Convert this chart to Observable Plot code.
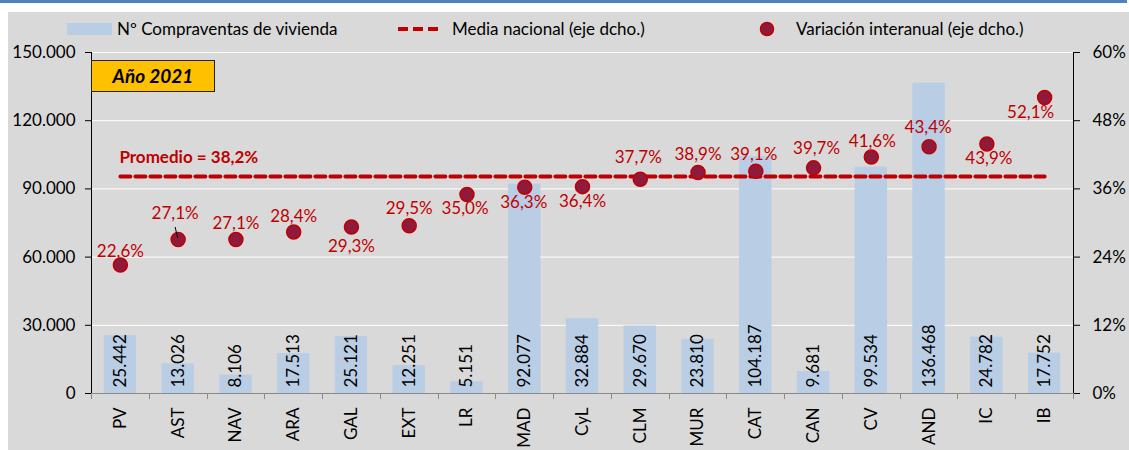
<!DOCTYPE html>
<html><head><meta charset="utf-8">
<script src="https://cdn.jsdelivr.net/npm/d3@7"></script>
<script src="https://cdn.jsdelivr.net/npm/@observablehq/plot@0.6"></script>
<style>
body{margin:0;width:1129px;height:450px;position:relative;overflow:hidden;background:#fff;font-family:Lato,"Noto Sans",sans-serif;}
#topline{position:absolute;left:0;top:0;width:1127px;height:3px;background:#4f81bd;}
#panel{position:absolute;left:8px;top:12px;width:1121px;height:438px;background:#d9d9d9;}
#legend{position:relative;height:30px;width:1121px;}
#legend svg{display:block;}
#badge{position:absolute;left:91px;top:60px;width:122px;height:30px;background:#ffc000;border:1px solid #222;font-weight:bold;font-style:italic;font-size:19px;text-align:center;line-height:30px;color:#000;}
</style></head>
<body>
<div id="topline"></div>
<div id="panel">
  <div id="legend"></div>
  <div id="chart"></div>
</div>
<div id="badge">Año 2021</div>
<script>
// ---- data ----
const categories = ["PV","AST","NAV","ARA","GAL","EXT","LR","MAD","CyL","CLM","MUR","CAT","CAN","CV","AND","IC","IB"];
const sales = [25442,13026,8106,17513,25121,12251,5151,92077,32884,29670,23810,104187,9681,99534,136468,24782,17752];
const yoy = [22.6,27.1,27.1,28.4,29.3,29.5,35.0,36.3,36.4,37.7,38.9,39.1,39.7,41.6,43.4,43.9,52.1];
const nationalMean = 38.2;
const leftTicks = [0,30000,60000,90000,120000,150000];
const rightTicks = [0,12,24,36,48,60];
const legendLabels = ["Nº Compraventas de vivienda","Media nacional (eje dcho.)","Variación interanual (eje dcho.)"];
const meanLabel = "Promedio = 38,2%";

// ---- layout (label placement) ----
const labelDy = [-14,-26,-16,-16,20,-17,14,15,15,-22,-18,-17,-19,-16,-19,15,15];
const labelDx = [0,-3,0,0,0,0,-2,-1,0,-2,0,-2,3,1,-1,2,-14];

const ratio = leftTicks[leftTicks.length-1] / rightTicks[rightTicks.length-1];
const rows = categories.map((c,i)=>({cat:c, sales:sales[i], yoy:yoy[i], i}));
const fmtThousands = d => d3.format(",")(d).replace(/,/g,".");
const fmtPct = d => d.toFixed(1).replace(".",",") + "%";

const RED = "#c00000", DOT = "#8f1a3b", BAR = "#b9cde5";
const FS = 17;

const pctLabels = rows.map((d,i)=>Plot.text([d], {
  x:"cat", y: d=>d.yoy*ratio, text: d=>fmtPct(d.yoy),
  dy: labelDy[i], dx: labelDx[i], fill: RED, fontSize: FS, lineAnchor:"middle"
}));

const plot = Plot.plot({
  width: 1121, height: 408,
  marginLeft: 83, marginRight: 56, marginTop: 10, marginBottom: 57,
  style: {background:"transparent", fontFamily:"Lato, 'Noto Sans', sans-serif", overflow:"visible", color:"#000"},
  x: {domain: categories, paddingInner: 0.44, paddingOuter: 0.22, round: false, label: null},
  y: {domain: [0, leftTicks[leftTicks.length-1]], label: null},
  marks: [
    Plot.gridY(leftTicks, {stroke:"#fff", strokeOpacity:1, strokeWidth:1}),
    Plot.barY(rows, {x:"cat", y:"sales", fill: BAR}),
    Plot.ruleY([0], {stroke:"#8a8a8a", strokeWidth:1}),
    Plot.text(rows, {x:"cat", y:0, text: d=>fmtThousands(d.sales), rotate:-90, textAnchor:"start", lineAnchor:"middle", dy:-6, fontSize:FS, fill:"#000"}),
    Plot.line(categories, {x: d=>d, y: ()=>nationalMean*ratio, stroke: RED, strokeWidth: 4, strokeDasharray: "10,5"}),
    Plot.text([meanLabel], {x: ()=>categories[0], y: ()=>nationalMean*ratio, text: d=>d, textAnchor:"start", dx:-1, dy:-19, fill: RED, fontWeight:"bold", fontSize:FS, lineAnchor:"middle"}),
    Plot.dot(rows, {x:"cat", y: d=>d.yoy*ratio, r:7, fill: DOT, stroke: RED, strokeWidth: 1.5}),
    ...pctLabels,
    Plot.axisY(leftTicks, {anchor:"left", tickFormat: fmtThousands, tickSize:6, tickPadding:10, fontSize:FS, label:null, stroke:"#000"}),
    Plot.axisY(rightTicks.map(p=>p*ratio), {anchor:"right", tickFormat: d=> Math.round(d/ratio)+"%", tickSize:6, tickPadding:13, fontSize:FS, label:null, stroke:"#000"}),
    Plot.axisX({tickRotate:-90, tickSize:0, tickPadding:14, fontSize:FS, label:null})
  ]
});
document.getElementById("chart").appendChild(plot);

// axis lines, band boundary ticks and leader line via the plot's scales
const sx = plot.scale("x"), sy = plot.scale("y");
const [r0, r1] = sx.range;
const yTop = sy.apply(leftTicks[leftTicks.length-1]), yBot = sy.apply(0);
const svg = d3.select(plot);
const g = svg.append("g");
g.append("line").attr("x1", r0+0.5).attr("x2", r0+0.5).attr("y1", yTop).attr("y2", yBot).attr("stroke","#000");
g.append("line").attr("x1", r1+0.5).attr("x2", r1+0.5).attr("y1", yTop).attr("y2", yBot).attr("stroke","#000");
const step = (r1 - r0) / categories.length;
for (let i = 0; i <= categories.length; i++) {
  const x = Math.round(r0 + i*step) + 0.5;
  g.append("line").attr("x1", x).attr("x2", x).attr("y1", yBot).attr("y2", yBot+6).attr("stroke","#8a8a8a");
}
// leader line for AST label
{
  const i = categories.indexOf("AST");
  const cx = sx.apply("AST") + sx.bandwidth/2, cy = sy.apply(yoy[i]*ratio);
  g.append("line").attr("x1", cx-2.5).attr("y1", cy-12).attr("x2", cx).attr("y2", cy-1).attr("stroke","#000").attr("stroke-width",1);
}

// legend
const lg = d3.select("#legend").append("svg").attr("width",1121).attr("height",30)
  .style("font-family","Lato, 'Noto Sans', sans-serif").style("font-size","17px");
lg.append("rect").attr("x",59).attr("y",11).attr("width",45).attr("height",12).attr("fill",BAR);
lg.append("text").attr("x",109).attr("y",17).attr("dy","0.35em").text(legendLabels[0]);
lg.append("line").attr("x1",390).attr("x2",435).attr("y1",17).attr("y2",17).attr("stroke",RED).attr("stroke-width",4).attr("stroke-dasharray","10,5");
lg.append("text").attr("x",444).attr("y",17).attr("dy","0.35em").text(legendLabels[1]);
lg.append("circle").attr("cx",759).attr("cy",17).attr("r",6.5).attr("fill",DOT).attr("stroke",RED).attr("stroke-width",1.5);
lg.append("text").attr("x",788).attr("y",17).attr("dy","0.35em").text(legendLabels[2]);
</script>
</body></html>
